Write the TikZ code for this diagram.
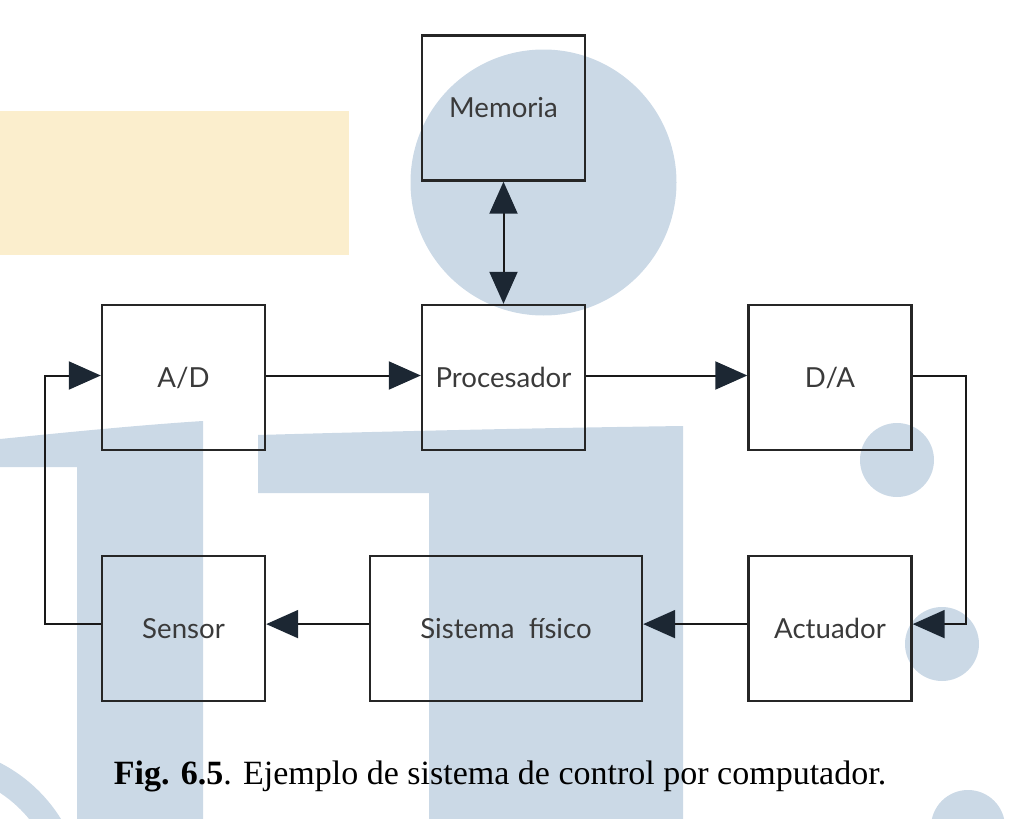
\documentclass[tikz,border=0pt]{standalone}
\usepackage{fontspec}
\setmainfont{Liberation Serif}
\newfontfamily\lblfont{Lato}
\usetikzlibrary{arrows.meta}
\definecolor{wmblue}{RGB}{203,217,230}
\definecolor{wmbeige}{RGB}{251,238,205}
\definecolor{headcol}{RGB}{28,39,51}
\definecolor{lblcol}{RGB}{58,58,58}

\begin{document}
\begin{tikzpicture}[x=0.5pt, y=-0.5pt,
	blk/.style={draw=black!85, line width=1.2pt, minimum width=81.5pt, minimum height=72.5pt,
		inner sep=0pt, font=\lblfont\fontsize{13.8}{16}\selectfont, text=lblcol},
	conn/.style={draw=black!90, line width=1pt,
		-{Triangle[length=16pt, width=14pt, color=headcol]}},
	dconn/.style={draw=black!90, line width=1pt,
		{Triangle[length=16pt, width=14pt, color=headcol]}-{Triangle[length=16pt, width=14pt, color=headcol]}},
	wm/.style={fill=wmblue}]
	\useasboundingbox (0,0) rectangle (1024,819);
	% watermark behind the figure
	\begin{scope}
		\clip (0,0) rectangle (1024,819);
		\fill[wmbeige] (0,111) rectangle (349,255);
		\fill[wm] (543.5,182.5) circle (133);
		\fill[wm] (897,460) circle (37);
		\fill[wm] (942,644) circle (37);
		\fill[wm] (968,827) circle (37);
		\fill[wm, even odd rule] (-70,900) circle (154) (-70,900) circle (128);
		\fill[wm] (0,439) .. controls (70,432) and (140,425) .. (203,421) -- (203,819) -- (77,819) -- (77,467) -- (0,467) -- cycle;
		\fill[wm] (258,435) .. controls (400,431) and (540,428) .. (683,426) -- (683,819) -- (429,819) -- (429,493) -- (258,493) -- cycle;
	\end{scope}
	% blocks
	\node (mem) at (503.5,108) [blk] {Memoria};
	\node (ad) at (183.5,377.5) [blk] {A/D};
	\node (proc) at (503.5,377.5) [blk] {Procesador};
	\node (da) at (830,377.5) [blk] {D/A};
	\node (sen) at (183.5,628.5) [blk] {Sensor};
	\node (sys) at (506,628.5) [blk, minimum width=136pt] {Sistema\ \ físico};
	\node (act) at (830,628.5) [blk] {Actuador};
	% connections
	\draw [dconn] (mem) -- (proc);
	\draw [conn] ([yshift=1pt]ad.east) -- ([yshift=1pt]proc.west);
	\draw [conn] ([yshift=1pt]proc.east) -- ([yshift=1pt]da.west);
	\draw [conn] ([yshift=1pt]da.east) -- ++(53,0) |- ([yshift=2.2pt]act.east);
	\draw [conn] ([yshift=2.2pt]act.west) -- ([yshift=2.2pt]sys.east);
	\draw [conn] ([yshift=2.2pt]sys.west) -- ([yshift=2.2pt]sen.east);
	\draw [conn] ([yshift=2.2pt]sen.west) -- ++(-56,0) |- ([yshift=1pt]ad.west);
	% caption
	\node (cap) at (500,776) [font=\fontsize{17}{20}\selectfont] {\textbf{Fig. 6.5}. Ejemplo de sistema de control por computador.};
\end{tikzpicture}
\end{document}
